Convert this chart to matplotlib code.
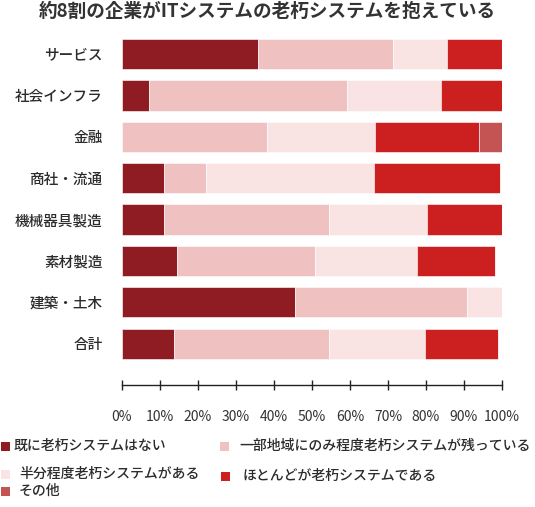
import numpy as np
import matplotlib
matplotlib.use("Agg")
import matplotlib.pyplot as plt
from matplotlib.patches import Rectangle

plt.rcParams['font.family'] = ['Noto Sans CJK JP', 'DejaVu Sans']

# data (percent)
categories = ['サービス', '社会インフラ', '金融', '商社・流通',
              '機械器具製造', '素材製造', '建築・土木', '合計']
none_left = [35.7, 7.0, 0.0, 11.1, 11.1, 14.4, 45.5, 13.6]
partly = [35.6, 52.1, 38.1, 11.0, 43.3, 36.4, 45.4, 40.8]
half = [14.2, 24.8, 28.6, 44.2, 25.8, 26.8, 9.1, 25.4]
mostly = [14.4, 16.1, 27.3, 33.3, 19.8, 20.6, 0.0, 19.1]
other = [0.0, 0.0, 6.0, 0.0, 0.0, 0.0, 0.0, 0.0]

series = [none_left, partly, half, mostly, other]
labels = ['既に老朽システムはない', '一部地域にのみ程度老朽システムが残っている',
          '半分程度老朽システムがある', 'ほとんどが老朽システムである', 'その他']
colors = ['#8e1c22', '#f0c1c1', '#f9e3e3', '#cc1f1f', '#c45353']
ticks = np.arange(0, 101, 10)

W, H = 535, 507
fig = plt.figure(figsize=(W / 100, H / 100), dpi=100)


def fx(px):
    return px / W


def fy(py):
    return 1 - py / H


ax = fig.add_axes([fx(122), fy(385), fx(502) - fx(122), fy(12.7) - fy(385)])

ypos = np.arange(len(categories))
left = np.zeros(len(categories))
for vals, col in zip(series, colors):
    vals = np.array(vals)
    ax.barh(ypos, vals, left=left, height=0.73, color=col,
            edgecolor='#ffffff', linewidth=0.4)
    left += vals

ax.set_xlim(0, 100)
ax.set_ylim(8.0, -1.0)
ax.set_yticks(ypos)
ax.set_yticklabels(categories, fontsize=10.5, color='#2b2b2b',
                   fontweight='medium')
ax.set_xticks(ticks)
ax.set_xticklabels([f'{t}%' for t in ticks], fontsize=10, color='#333333')

for s in ['top', 'right', 'left']:
    ax.spines[s].set_visible(False)
ax.spines['bottom'].set_color('#222222')
ax.spines['bottom'].set_linewidth(1.0)
ax.tick_params(axis='y', length=0, pad=14)
ax.tick_params(axis='x', direction='inout', length=7.5, width=1.0,
               color='#222222', pad=14.5)

fig.text(fx(267.5), fy(11), '約8割の企業がITシステムの老朽システムを抱えている',
         ha='center', va='center', fontsize=13.4, fontweight='bold',
         color='#333333')

# legend drawn by hand to follow the reference layout
leg_pos = [(1, 446, 14), (220, 446, 239), (1, 474, 19), (221, 476, 243),
           (1, 491, 19)]
for (sx, sy, tx), lab, col in zip(leg_pos, labels, colors):
    fig.add_artist(Rectangle((fx(sx), fy(sy + 4.5)), fx(9), 9 / H,
                             transform=fig.transFigure, color=col, lw=0))
    fig.text(fx(tx), fy(sy), lab, ha='left', va='center', fontsize=10,
             color='#2b2b2b', fontweight='medium')

fig.savefig('out.png', dpi=100)
